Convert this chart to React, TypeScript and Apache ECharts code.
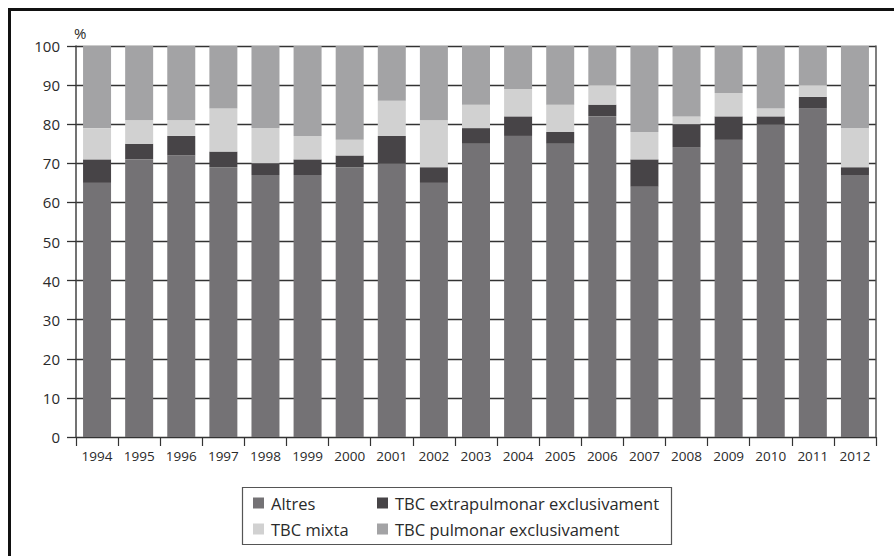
import React, { useEffect, useRef } from "react";
import * as echarts from "echarts";

const years = ["1994","1995","1996","1997","1998","1999","2000","2001","2002","2003","2004","2005","2006","2007","2008","2009","2010","2011","2012"];
const altres =    [65, 71, 72, 69, 67, 67, 69, 70, 65, 75, 77, 75, 82, 64, 74, 76, 80, 84, 67];
const extrapulm = [6, 4, 5, 4, 3, 4, 3, 7, 4, 4, 5, 3, 3, 7, 6, 6, 2, 3, 2];
const mixta =     [8, 6, 4, 11, 9, 6, 4, 9, 12, 6, 7, 7, 5, 7, 2, 6, 2, 3, 10];
const pulmonar =  [21, 19, 19, 16, 21, 23, 24, 14, 19, 15, 11, 15, 10, 22, 18, 12, 16, 10, 21];
const yTicks = [0, 100, 10];

const FONT = "'Open Sans', sans-serif";
const TEXT = "#2a2a2a";

export default function App() {
  const ref = useRef<HTMLDivElement>(null);
  useEffect(() => {
    if (!ref.current) return;
    const chart = echarts.init(ref.current, undefined, { renderer: "svg" });
    const legendText = { fontFamily: FONT, fontSize: 16.5, lineHeight: 18, color: TEXT, padding: [0, 0, 0, 2] };
    const legendBase = {
      orient: "vertical",
      top: 494,
      itemWidth: 11,
      itemHeight: 11,
      itemGap: 8,
      padding: 0,
      textStyle: legendText,
      icon: "rect",
      selectedMode: false,
    };
    chart.setOption({
      animation: false,
      backgroundColor: "#ffffff",
      grid: { left: 76, right: 18, top: 46, bottom: 119, containLabel: false },
      legend: [
        { ...legendBase, data: ["Altres", "TBC mixta"], left: 253 },
        { ...legendBase, data: ["TBC extrapulmonar exclusivament", "TBC pulmonar exclusivament"], left: 377 },
      ],
      xAxis: {
        type: "category",
        data: years,
        boundaryGap: true,
        axisLine: { show: true, lineStyle: { color: "#333", width: 1.2 } },
        axisTick: { show: true, length: 9, alignWithLabel: false, lineStyle: { color: "#333", width: 1.2 } },
        axisLabel: { fontFamily: FONT, fontSize: 13.5, color: TEXT, margin: 12 },
      },
      yAxis: [
        {
          type: "value",
          min: yTicks[0],
          max: yTicks[1],
          interval: yTicks[2],
          axisLine: { show: true, lineStyle: { color: "#444", width: 1.5 } },
          axisTick: { show: true, length: 9, lineStyle: { color: "#333", width: 1.3 } },
          axisLabel: { fontFamily: FONT, fontSize: 15, color: TEXT, margin: 16 },
          splitLine: { show: true, lineStyle: { color: "#333", width: 1.3 } },
        },
        {
          type: "value",
          position: "right",
          min: yTicks[0],
          max: yTicks[1],
          interval: yTicks[2],
          axisLine: { show: true, lineStyle: { color: "#555", width: 1.5 } },
          axisTick: { show: false },
          axisLabel: { show: false },
          splitLine: { show: false },
        },
      ],
      series: [
        { name: "Altres", type: "bar", stack: "t", data: altres, barWidth: 28, itemStyle: { color: "#747275" } },
        { name: "TBC extrapulmonar exclusivament", type: "bar", stack: "t", data: extrapulm, barWidth: 28, itemStyle: { color: "#474447" } },
        { name: "TBC mixta", type: "bar", stack: "t", data: mixta, barWidth: 28, itemStyle: { color: "#d1d1d1" } },
        { name: "TBC pulmonar exclusivament", type: "bar", stack: "t", data: pulmonar, barWidth: 28, itemStyle: { color: "#a3a3a5" } },
      ],
      graphic: [
        {
          type: "rect",
          shape: { x: 9.5, y: 9.5, width: 1000, height: 1000 },
          style: { fill: "none", stroke: "#111", lineWidth: 3 },
          silent: true,
        },
        {
          type: "rect",
          shape: { x: 242.5, y: 487.5, width: 429, height: 57 },
          style: { fill: "none", stroke: "#555", lineWidth: 1.2 },
          silent: true,
        },
        {
          type: "text",
          x: 74,
          y: 25,
          style: { text: "%", fontFamily: FONT, fontSize: 15, fill: TEXT },
          silent: true,
        },
      ],
    });
    return () => chart.dispose();
  }, []);
  return <div ref={ref} style={{ position: "fixed", left: 0, top: 0, width: 894, height: 556 }} />;
}
